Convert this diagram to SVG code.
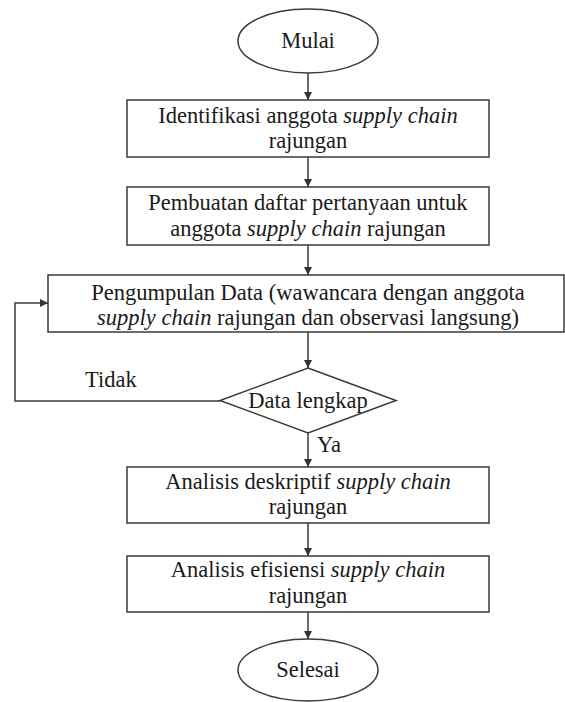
<svg xmlns="http://www.w3.org/2000/svg" width="565" height="702" viewBox="0 0 565 702">
<style>
.s{fill:#fff;stroke:#3a3a3a;stroke-width:1.5}
.c{fill:none;stroke:#3a3a3a;stroke-width:1.5}
text{font-family:"Liberation Serif","DejaVu Serif",serif;font-size:22.5px;fill:#1a1a1a;text-anchor:middle}
.i{font-style:italic}
</style>
<defs>
<marker id="a" viewBox="0 0 10 10" refX="10" refY="5" markerWidth="9" markerHeight="8" markerUnits="userSpaceOnUse" orient="auto">
<path d="M0,0 L10,5 L0,10 z" fill="#333"/>
</marker>
</defs>
<rect width="565" height="702" fill="#fff"/>
<g id="connectors">
<line class="c" x1="308" y1="73" x2="308" y2="100" marker-end="url(#a)"/>
<line class="c" x1="308" y1="157" x2="308" y2="187" marker-end="url(#a)"/>
<line class="c" x1="308" y1="245" x2="308" y2="275" marker-end="url(#a)"/>
<line class="c" x1="308" y1="332" x2="308" y2="368" marker-end="url(#a)"/>
<polyline class="c" points="220,401 15,401 15,303 48,303" marker-end="url(#a)"/>
<line class="c" x1="308" y1="433" x2="308" y2="467" marker-end="url(#a)"/>
<line class="c" x1="308" y1="523" x2="308" y2="556" marker-end="url(#a)"/>
<line class="c" x1="308" y1="612" x2="308" y2="639" marker-end="url(#a)"/>
<text x="85" y="387" style="text-anchor:start">Tidak</text>
<text x="317" y="452" style="text-anchor:start">Ya</text>
</g>
<g id="mulai">
<ellipse class="s" cx="308" cy="41" rx="70" ry="32"/>
<text x="308" y="48">Mulai</text>
</g>
<g id="identifikasi">
<rect class="s" x="127" y="100" width="362" height="57"/>
<text x="308" y="123">Identifikasi anggota <tspan class="i">supply chain</tspan></text>
<text x="308" y="148">rajungan</text>
</g>
<g id="pembuatan">
<rect class="s" x="127" y="187" width="362" height="58"/>
<text x="308" y="210">Pembuatan daftar pertanyaan untuk</text>
<text x="308" y="236">anggota <tspan class="i">supply chain</tspan> rajungan</text>
</g>
<g id="pengumpulan">
<rect class="s" x="48" y="275" width="516" height="57"/>
<text x="308" y="300">Pengumpulan Data (wawancara dengan anggota</text>
<text x="308" y="325"><tspan class="i">supply chain</tspan> rajungan dan observasi langsung)</text>
</g>
<g id="keputusan">
<polygon class="s" points="308,368 396,400.5 308,433 220,400.5"/>
<text x="308" y="408">Data lengkap</text>
</g>
<g id="deskriptif">
<rect class="s" x="127" y="467" width="362" height="56"/>
<text x="308" y="489">Analisis deskriptif <tspan class="i">supply chain</tspan></text>
<text x="308" y="514">rajungan</text>
</g>
<g id="efisiensi">
<rect class="s" x="127" y="556" width="362" height="56"/>
<text x="308" y="577">Analisis efisiensi <tspan class="i">supply chain</tspan></text>
<text x="308" y="603">rajungan</text>
</g>
<g id="selesai">
<ellipse class="s" cx="308" cy="670" rx="70" ry="31"/>
<text x="308" y="677">Selesai</text>
</g>
</svg>
